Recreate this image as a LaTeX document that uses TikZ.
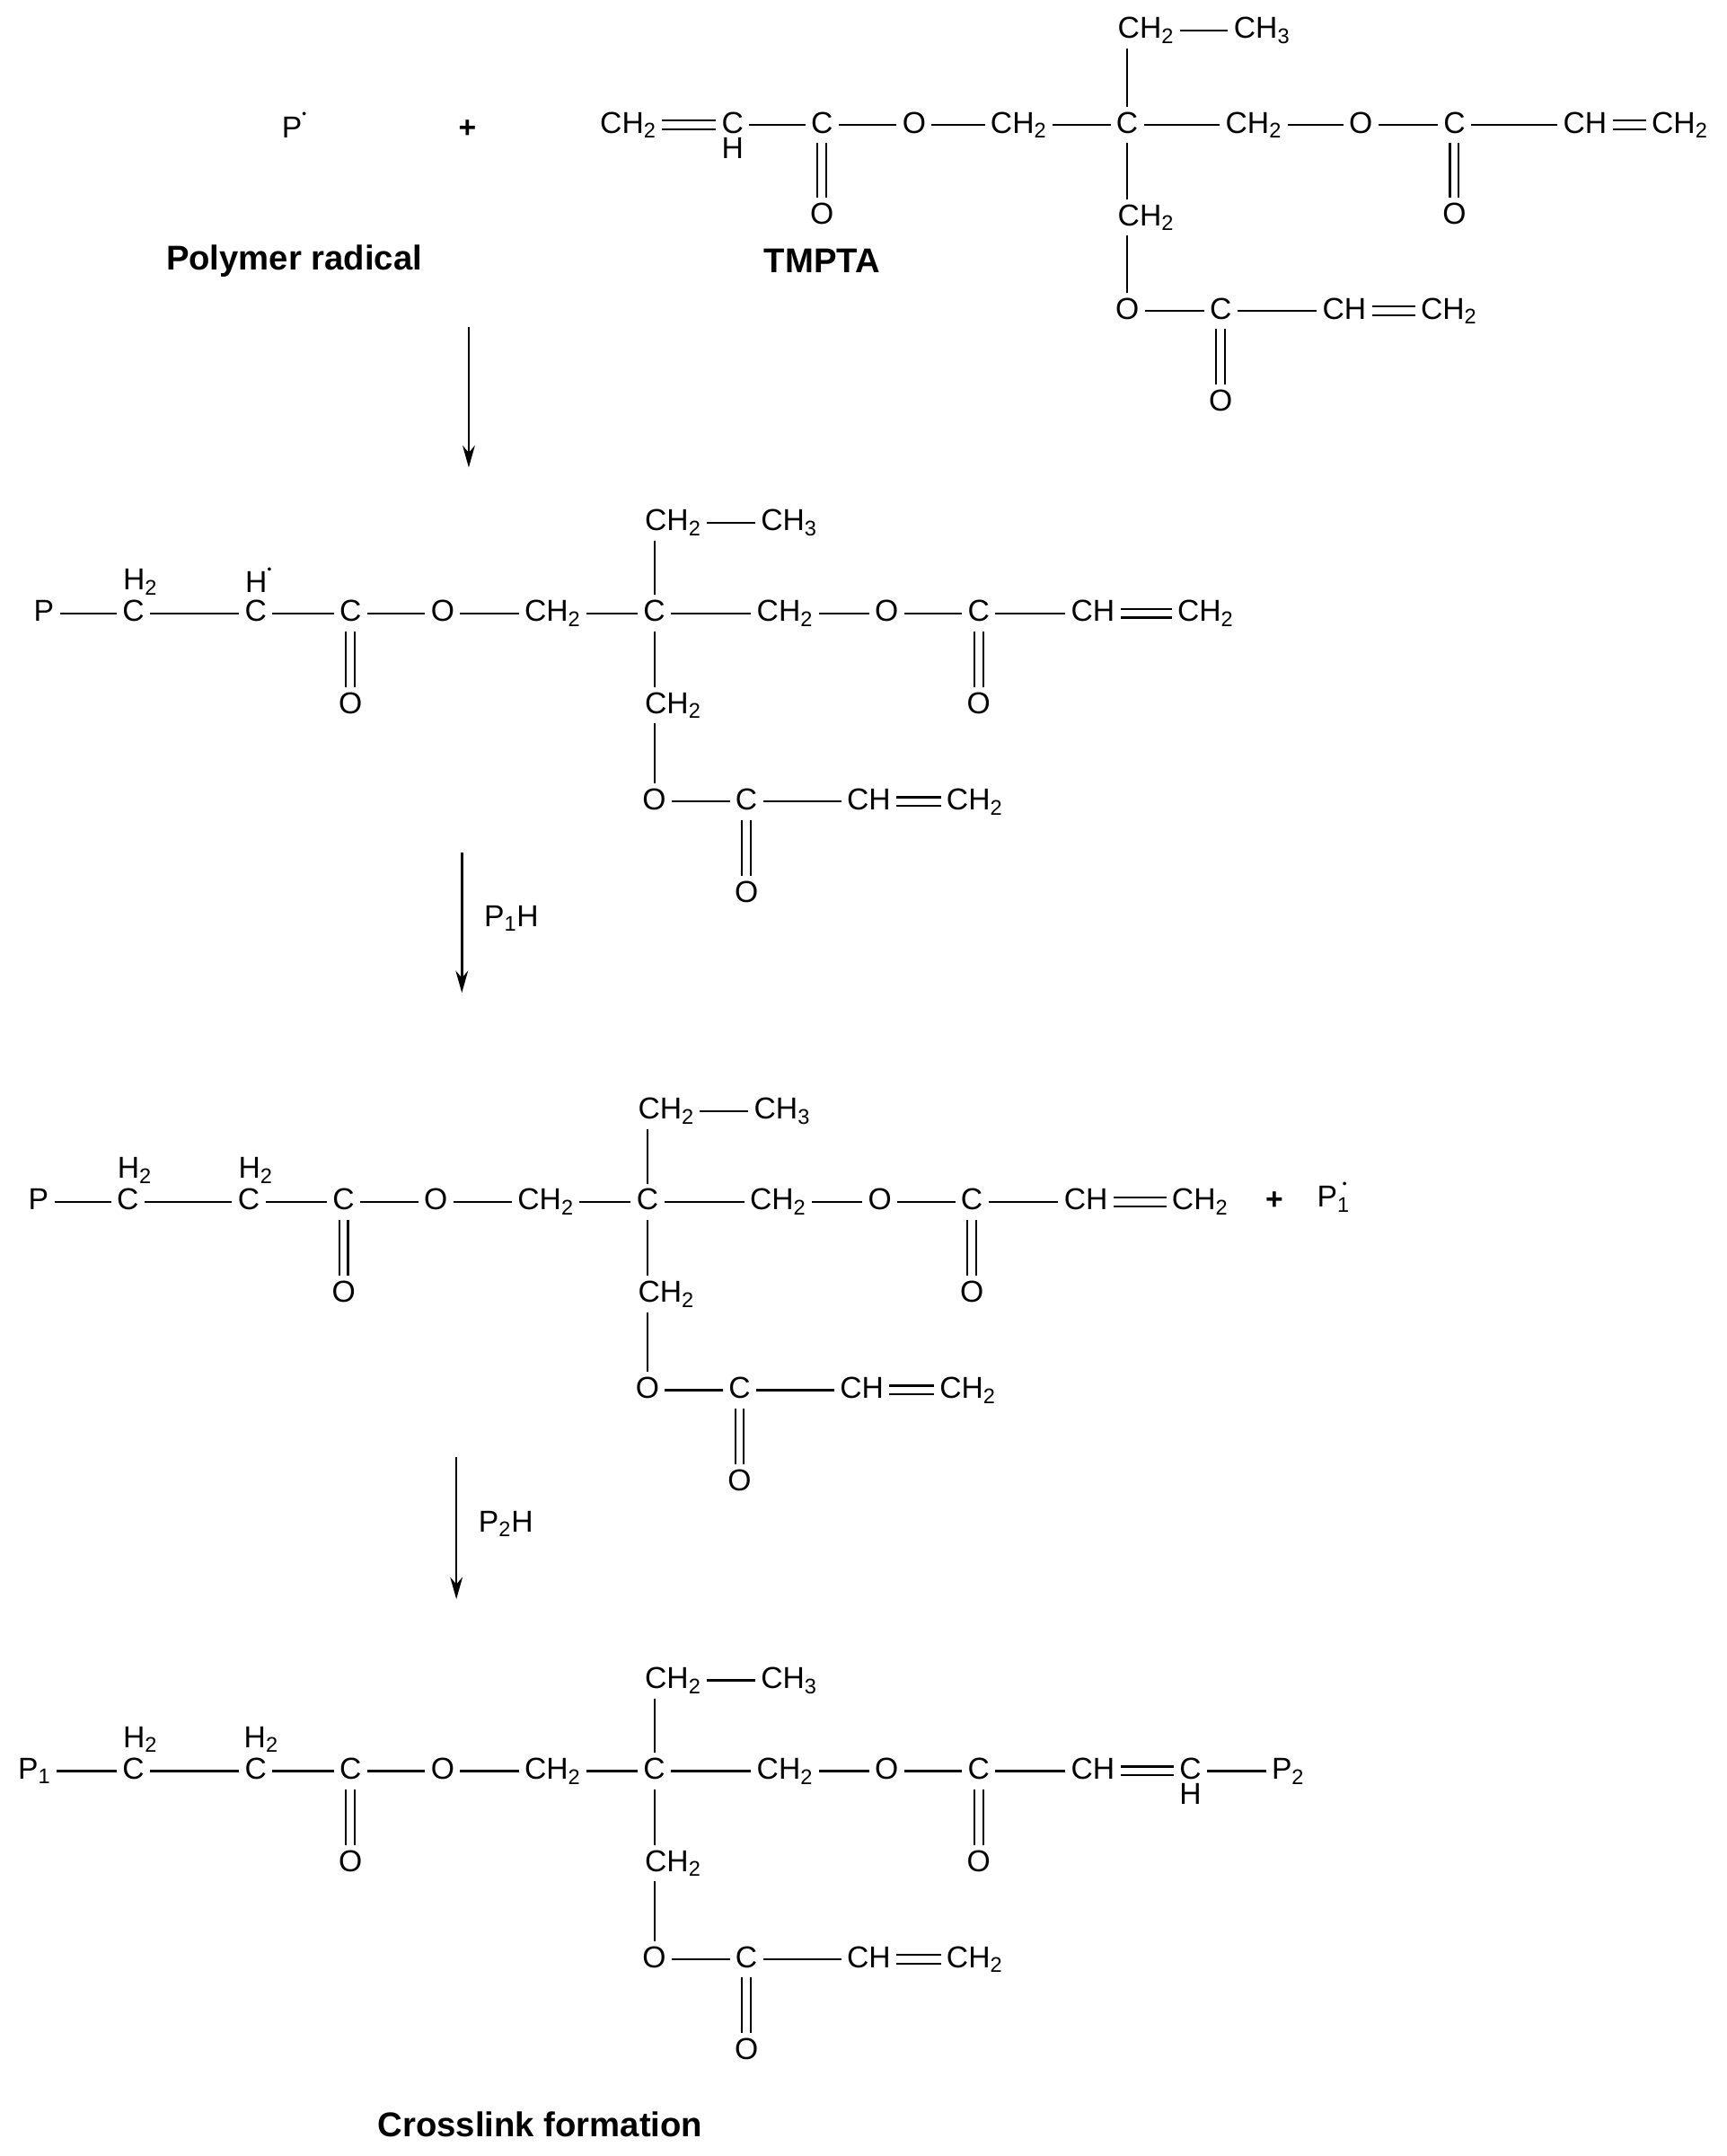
\documentclass[tikz,border=0pt]{standalone}
\usepackage{fontspec}
\setmainfont{Liberation Sans}
\usetikzlibrary{arrows.meta}
\newcommand\subn[1]{\textsubscript{#1}}
\newcommand\rad{\raisebox{1.2ex}{\fontsize{9}{9}\selectfont •}}
\tikzset{x=1pt,y=-1pt,
 atom/.style={inner sep=4pt,font=\fontsize{22}{24}\selectfont,text height=15pt,text depth=3pt},
 lbl/.style={inner sep=1pt,font=\fontsize{25}{28}\selectfont\bfseries},
 bd/.style={line width=1.4pt},
 dbl/.style={line width=1.4pt,double,double distance=5pt},
 rarrow/.style={line width=1.6pt,-{Stealth[length=16pt,width=9pt]}}}
\newcommand\core[3]{%
\begin{scope}[shift={(#2,#3)}]
\node[atom] (#1c3) at (255,0) {C};
\node[atom] (#1o3) at (255,67) {O};
\node[atom] (#1o1) at (322,0) {O};
\node[atom] (#1m1) at (402,0) {CH\subn2};
\node[atom] (#1q) at (476,0) {C};
\node[atom] (#1m2) at (571,0) {CH\subn2};
\node[atom] (#1o2) at (645,0) {O};
\node[atom] (#1c4) at (712,0) {C};
\node[atom] (#1o4) at (712,67) {O};
\node[atom] (#1ch) at (795,0) {CH};
\node[atom,anchor=west] (#1t) at (465,-66) {CH\subn2};
\node[atom] (#1t3) at (574,-66) {CH\subn3};
\node[atom,anchor=west] (#1d) at (465,67) {CH\subn2};
\node[atom] (#1od) at (476,137) {O};
\node[atom] (#1cd) at (543,137) {C};
\node[atom] (#1odo) at (543,204) {O};
\node[atom] (#1chd) at (632,137) {CH};
\node[atom] (#1chd2) at (709,137) {CH\subn2};
\end{scope}
\draw[dbl] (#1c3) -- (#1o3);
\draw[bd] (#1c3) -- (#1o1) -- (#1m1) -- (#1q) -- (#1m2) -- (#1o2) -- (#1c4) -- (#1ch);
\draw[dbl] (#1c4) -- (#1o4);
\draw[bd] (#1q) -- (#1q |- #1t.south);
\draw[bd] (#1t) -- (#1t3);
\draw[bd] (#1q) -- (#1q |- #1d.north);
\draw[bd] (#1q |- #1d.south) -- (#1od);
\draw[bd] (#1od) -- (#1cd) -- (#1chd);
\draw[dbl] (#1cd) -- (#1odo);
\draw[dbl] (#1chd) -- (#1chd2);
}
\begin{document}
\begin{tikzpicture}
\useasboundingbox (0,0) rectangle (1256,1568);
% ---- reactants
\node[atom] (pr) at (214,94) {P\rad};
\node[atom,font=\fontsize{22}{24}\selectfont\bfseries] (plus1) at (340,94) {+};
\node[lbl] (lpr) at (214,190) {Polymer radical};
\node[lbl] (ltm) at (598,190) {TMPTA};
\node[atom] (a1) at (457,91) {CH\subn2};
\node[atom] (a2) at (533,91) {C};
\node[atom,inner sep=0pt] (a2h) at (533,109) {H};
\node[atom] (a3) at (598,91) {C};
\node[atom] (a3o) at (598,157) {O};
\node[atom] (a4) at (665,91) {O};
\node[atom] (a5) at (741,91) {CH\subn2};
\node[atom] (aq) at (820,91) {C};
\node[atom] (a6) at (912,91) {CH\subn2};
\node[atom] (a7) at (990,91) {O};
\node[atom] (a8) at (1058,91) {C};
\node[atom] (a8o) at (1058,157) {O};
\node[atom] (a9) at (1153,91) {CH};
\node[atom] (a10) at (1222,91) {CH\subn2};
\node[atom,anchor=west] (at) at (809,22) {CH\subn2};
\node[atom] (at3) at (918,22) {CH\subn3};
\node[atom,anchor=west] (ad) at (809,158) {CH\subn2};
\node[atom] (aod) at (820,226) {O};
\node[atom] (acd) at (888,226) {C};
\node[atom] (acdo) at (888,293) {O};
\node[atom] (achd) at (978,226) {CH};
\node[atom] (achd2) at (1054,226) {CH\subn2};
\draw[dbl] (a1) -- (a2);
\draw[bd] (a2) -- (a3) -- (a4) -- (a5) -- (aq) -- (a6) -- (a7) -- (a8) -- (a9);
\draw[dbl] (a3) -- (a3o);
\draw[dbl] (a8) -- (a8o);
\draw[dbl] (a9) -- (a10);
\draw[bd] (aq) -- (aq |- at.south);
\draw[bd] (at) -- (at3);
\draw[bd] (aq) -- (aq |- ad.north);
\draw[bd] (aq |- ad.south) -- (aod);
\draw[bd] (aod) -- (acd) -- (achd);
\draw[dbl] (acd) -- (acdo);
\draw[dbl] (achd) -- (achd2);
\coordinate (ar1s) at (341,238); \coordinate (ar1e) at (341,340);
\draw[rarrow] (ar1s) -- (ar1e);
% ---- molecule 2
\core{m}{0}{446}
\node[atom] (mp) at (32,446) {P};
\node[atom] (mca) at (97,446) {C};
\node[atom,inner sep=0pt] (mcah) at (102,423) {H\subn2};
\node[atom] (mcb) at (186,446) {C};
\node[atom,inner sep=0pt] (mcbh) at (188,425) {H\rad};
\node[atom] (mend) at (877,446) {CH\subn2};
\draw[bd] (mp) -- (mca) -- (mcb) -- (mc3);
\draw[dbl] (mch) -- (mend);
\coordinate (ar2s) at (336,620); \coordinate (ar2e) at (336,722);
\draw[rarrow] (ar2s) -- (ar2e);
\node[atom,anchor=west] (l2) at (348,668) {P\subn1H};
% ---- molecule 3
\core{n}{-5}{874}
\node[atom] (np) at (28,874) {P};
\node[atom] (nca) at (93,874) {C};
\node[atom,inner sep=0pt] (ncah) at (98,851) {H\subn2};
\node[atom] (ncb) at (181,874) {C};
\node[atom,inner sep=0pt] (ncbh) at (186,851) {H\subn2};
\node[atom] (nend) at (873,874) {CH\subn2};
\node[atom,font=\fontsize{22}{24}\selectfont\bfseries] (plus2) at (927,874) {+};
\node[atom] (np1) at (970,872) {P\subn1\llap{\raisebox{1.2ex}{\fontsize{9}{9}\selectfont •}\hspace{2pt}}};
\draw[bd] (np) -- (nca) -- (ncb) -- (nc3);
\draw[dbl] (nch) -- (nend);
\coordinate (ar3s) at (332,1060); \coordinate (ar3e) at (332,1163);
\draw[rarrow] (ar3s) -- (ar3e);
\node[atom,anchor=west] (l3) at (344,1108) {P\subn2H};
% ---- molecule 4
\core{k}{0}{1288}
\node[atom] (kp) at (25,1288) {P\subn1};
\node[atom] (kca) at (97,1288) {C};
\node[atom,inner sep=0pt] (kcah) at (102,1265) {H\subn2};
\node[atom] (kcb) at (186,1288) {C};
\node[atom,inner sep=0pt] (kcbh) at (190,1265) {H\subn2};
\node[atom] (kcx) at (866,1288) {C};
\node[atom,inner sep=0pt] (kcxh) at (866,1306) {H};
\node[atom] (kp2) at (937,1288) {P\subn2};
\draw[bd] (kp) -- (kca) -- (kcb) -- (kc3);
\draw[dbl] (kch) -- (kcx);
\draw[bd] (kcx) -- (kp2);
\node[lbl] (lcf) at (393,1545) {Crosslink formation};
\end{tikzpicture}
\end{document}
